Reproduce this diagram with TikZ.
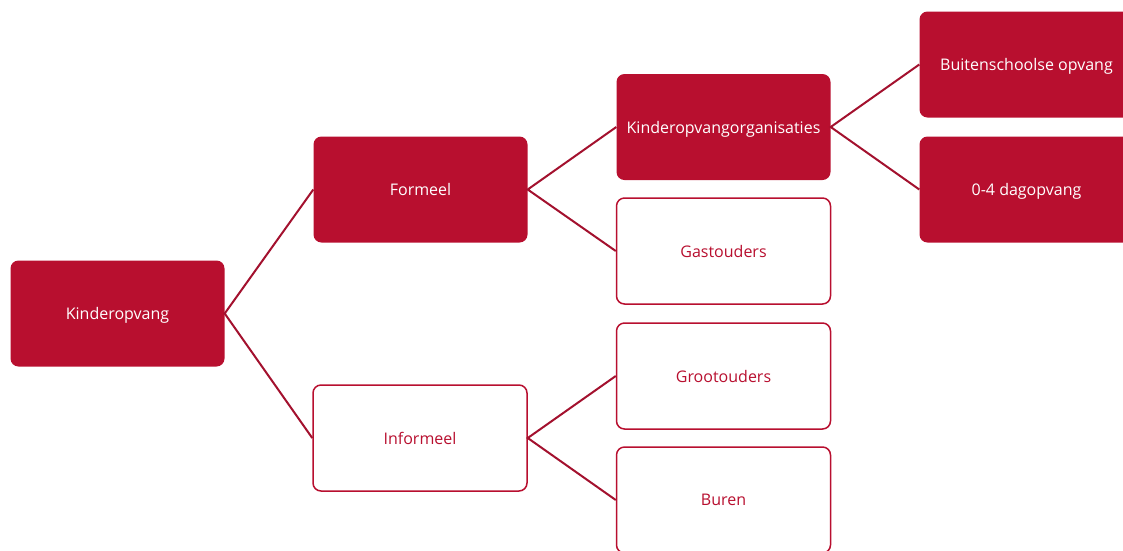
\documentclass[tikz,border=0pt]{standalone}
\usepackage{fontspec}
\setmainfont{Open Sans}
\definecolor{boxred}{HTML}{B80F2F}
\definecolor{linered}{HTML}{A3112E}
\begin{document}
\begin{tikzpicture}[x=1pt,y=-1pt,
    vol/.style={rectangle,rounded corners=8pt,fill=boxred,text=white,
      minimum width=214pt,minimum height=106pt,inner sep=0pt,
      text depth=0pt,font=\fontsize{16}{19}\selectfont},
    leeg/.style={vol,fill=white,draw=boxred,line width=1.5pt,text=boxred},
    tak/.style={draw=linered,line width=2pt}]
      \useasboundingbox (0,0) rectangle (1123,550);%
      \clip (0,0) rectangle (1123,550);%

      \node[vol] (KO) at (117.5,313.5) {Kinderopvang};%

      \node[vol] (FO) at (420.5,189.5) {Formeel};%
      \node[leeg] (IN) at (420,438) {Informeel};%

      \node[vol] (KOO) at (723.5,127) {Kinderopvangorganisaties};%
      \node[leeg] (GA) at (723.5,251) {Gastouders};%
      \node[leeg] (GR) at (723.5,376) {Grootouders};%
      \node[leeg] (BU) at (723.5,500) {Buren};%

      \node[vol] (BSO) at (1026.5,64.5) {Buitenschoolse opvang};%
      \node[vol] (DO) at (1026.5,189.5) {0-4 dagopvang};%

      \draw[tak] (FO.west) -- (KO.east) -- (IN.west);%
      \draw[tak] (KOO.west) -- (FO.east) -- (GA.west);%
      \draw[tak] (GR.west) -- (IN.east) -- (BU.west);%
      \draw[tak] (BSO.west) -- (KOO.east) -- (DO.west);%
\end{tikzpicture}
\end{document}
